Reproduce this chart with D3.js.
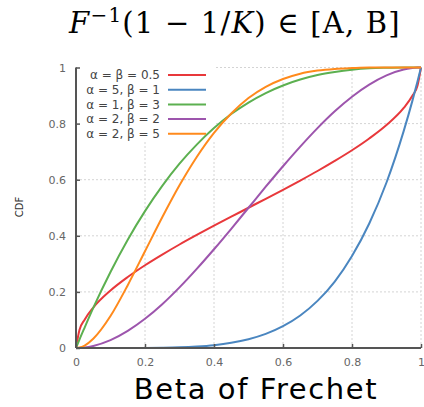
<!DOCTYPE html>
<html>
<head>
<meta charset="utf-8">
<script src="https://cdn.jsdelivr.net/npm/d3@7"></script>
<style>
  body { margin: 0; background: #fff; }
  svg { display: block; }
</style>
</head>
<body>
<svg id="chart"></svg>
<script>
// values
const xs = [0, 0.01, 0.025, 0.05, 0.1, 0.15, 0.2, 0.25, 0.3, 0.35, 0.4, 0.45, 0.5,
  0.55, 0.6, 0.65, 0.7, 0.75, 0.8, 0.85, 0.9, 0.95, 0.975, 0.99, 1];

const half = [0, 0.064, 0.101, 0.144, 0.205, 0.253, 0.295, 0.333, 0.369, 0.403, 0.436, 0.468, 0.5,
  0.532, 0.564, 0.597, 0.631, 0.667, 0.705, 0.747, 0.795, 0.856, 0.899, 0.936, 1];
const a5b1 = [0, 0, 0, 0, 0, 0.0001, 0.0003, 0.001, 0.0024, 0.0053, 0.0102, 0.0185, 0.0313,
  0.0503, 0.0778, 0.116, 0.168, 0.237, 0.328, 0.444, 0.59, 0.774, 0.881, 0.951, 1];
const a1b3 = [0, 0.03, 0.073, 0.143, 0.271, 0.386, 0.488, 0.578, 0.657, 0.725, 0.784, 0.834, 0.875,
  0.909, 0.936, 0.957, 0.973, 0.984, 0.992, 0.997, 0.999, 1, 1, 1, 1];
const a2b2 = [0, 0.0003, 0.0018, 0.0073, 0.028, 0.061, 0.104, 0.156, 0.216, 0.282, 0.352, 0.425, 0.5,
  0.575, 0.648, 0.718, 0.784, 0.844, 0.896, 0.939, 0.972, 0.993, 0.998, 1, 1];
const a2b5 = [0, 0.0015, 0.0087, 0.033, 0.114, 0.224, 0.345, 0.466, 0.58, 0.681, 0.767, 0.836, 0.891,
  0.931, 0.959, 0.978, 0.989, 0.995, 0.998, 1, 1, 1, 1, 1, 1];

const labels = ["α = β = 0.5", "α = 5, β = 1", "α = 1, β = 3", "α = 2, β = 2", "α = 2, β = 5"];
const colors = ["#e8383b", "#4a86c0", "#5cb050", "#9d55ad", "#ff8a1c"];
const series = [half, a5b1, a1b3, a2b2, a2b5];

const ticks = [0, 0.2, 0.4, 0.6, 0.8, 1];

const w = 424, h = 407;
const padL = 76, padR = 421, padT = 67.5, padB = 348;

const svg = d3.select("#chart").attr("width", w).attr("height", h);

const x = d3.scaleLinear().domain([0, 1]).range([padL, padR]);
const y = d3.scaleLinear().domain([0, 1]).range([padB, padT]);

// grid
svg.append("g")
  .selectAll("line")
  .data(ticks.slice(1))
  .enter().append("line")
  .attr("x1", d => x(d)).attr("x2", d => x(d))
  .attr("y1", padB).attr("y2", padT)
  .attr("stroke", "#d4d4d4").attr("stroke-dasharray", "2,2");
svg.append("g")
  .selectAll("line")
  .data(ticks.slice(1))
  .enter().append("line")
  .attr("x1", padL).attr("x2", padR)
  .attr("y1", d => y(d)).attr("y2", d => y(d))
  .attr("stroke", "#d4d4d4").attr("stroke-dasharray", "2,2");

// legend box covers the grid
svg.append("rect")
  .attr("x", padL + 1).attr("y", padT - 1)
  .attr("width", 138).attr("height", 74)
  .attr("fill", "#fff");

// curves
const line = d3.line()
  .x((d, i) => x(xs[i]))
  .y(d => y(d))
  .curve(d3.curveMonotoneX);

svg.append("g")
  .selectAll("path")
  .data(series)
  .enter().append("path")
  .attr("d", d => line(d))
  .attr("fill", "none")
  .attr("stroke", (d, i) => colors[i])
  .attr("stroke-width", 2);

// axes
const xAxis = d3.axisBottom(x).tickValues(ticks).tickSize(-4).tickPadding(10)
  .tickFormat(d3.format("~g"));
const gx = svg.append("g")
  .attr("transform", "translate(0," + padB + ")")
  .call(xAxis);

const yAxis = d3.axisLeft(y).tickValues(ticks).tickSize(-4).tickPadding(10)
  .tickFormat(d3.format("~g"));
const gy = svg.append("g")
  .attr("transform", "translate(" + padL + ",0)")
  .call(yAxis);

[gx, gy].forEach(g => {
  g.select(".domain").attr("stroke", "#555").attr("stroke-width", 2);
  g.selectAll(".tick line").attr("stroke", "#555").attr("stroke-width", 1.5);
  g.selectAll(".tick text")
    .attr("fill", "#666")
    .style("font-family", "'DejaVu Sans', sans-serif")
    .style("font-size", "11px");
});
gx.select(".domain").attr("d", "M" + padL + ",0H" + padR);
gy.select(".domain").attr("d", "M0," + padB + "V" + padT);

// legend
const leg = svg.append("g");
labels.forEach((lab, i) => {
  const ly = 75 + i * 14.7;
  leg.append("text")
    .attr("x", 160).attr("y", ly)
    .attr("dy", "0.35em")
    .attr("text-anchor", "end")
    .attr("fill", "#444")
    .style("font-family", "'DejaVu Sans', sans-serif")
    .style("font-size", "12px")
    .text(lab);
  leg.append("line")
    .attr("x1", 168).attr("x2", 206)
    .attr("y1", ly).attr("y2", ly)
    .attr("stroke", colors[i]).attr("stroke-width", 2);
});

// axis titles
svg.append("text")
  .attr("transform", "translate(23,207) rotate(-90)")
  .attr("text-anchor", "middle")
  .attr("fill", "#333")
  .style("font-family", "'DejaVu Sans', sans-serif")
  .style("font-size", "10px")
  .text("CDF");

svg.append("text")
  .attr("x", 256).attr("y", 399)
  .attr("text-anchor", "middle")
  .attr("fill", "#000")
  .style("font-family", "'DejaVu Sans', sans-serif")
  .style("font-size", "29px")
  .style("letter-spacing", "1.6px")
  .text("Beta of Frechet");

// title
const title = svg.append("text")
  .attr("x", 235).attr("y", 33)
  .attr("text-anchor", "middle")
  .attr("fill", "#000")
  .style("font-family", "'DejaVu Serif', 'Liberation Serif', serif")
  .style("font-size", "29px")
  .style("letter-spacing", "1.2px");
title.append("tspan").style("font-style", "italic").text("F");
title.append("tspan").attr("dy", -11).style("font-size", "20px").text("−1");
title.append("tspan").attr("dy", 11).text("(1 − 1/");
title.append("tspan").style("font-style", "italic").text("K");
title.append("tspan").text(") ∈ [A, B]");
</script>
</body>
</html>
